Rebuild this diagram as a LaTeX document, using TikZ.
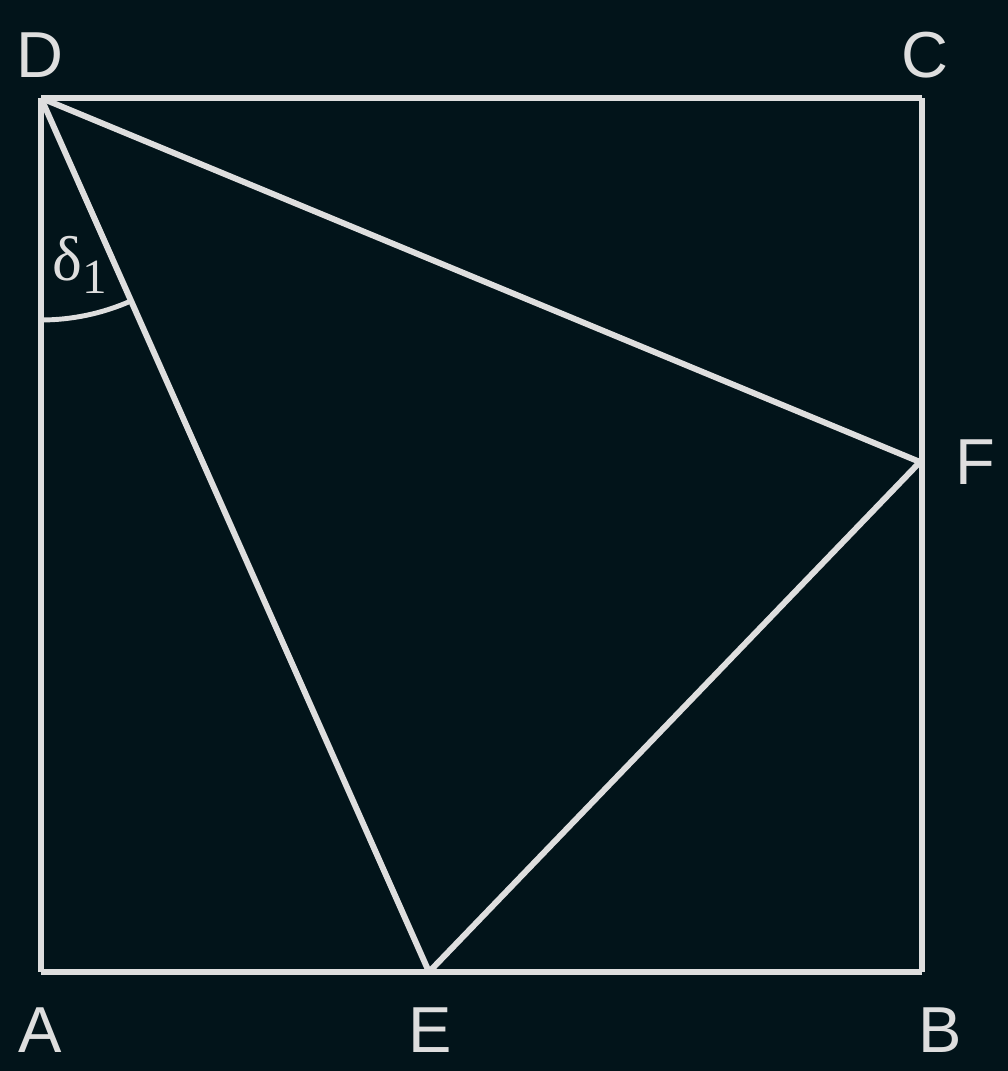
\documentclass[tikz,border=0pt]{standalone}
\usepackage{fontspec}
\setmainfont{Liberation Sans}
\newfontfamily\greekserif{Liberation Serif}
\definecolor{boardbg}{HTML}{02141A}
\definecolor{chalk}{HTML}{DEDEDE}
\begin{document}
\begin{tikzpicture}
    \fill[boardbg] (0,0) rectangle (10.08,10.71);
    \useasboundingbox (0,0) rectangle (10.08,10.71);

    \coordinate (A) at (0.41,0.99);
    \coordinate (B) at (9.22,0.99);
    \coordinate (C) at (9.22,9.73);
    \coordinate (D) at (0.41,9.73);
    \coordinate (E) at (4.29,0.99);
    \coordinate (F) at (9.20,6.09);

    \begin{scope}[every node/.style={text=chalk, inner sep=0pt, font=\fontsize{18.5}{20}\selectfont}]
        \node (lA) at (0.40,0.41) {A};
        \node (lB) at (9.40,0.41) {B};
        \node (lC) at (9.25,10.16) {C};
        \node (lD) at (0.40,10.16) {D};
        \node (lE) at (4.30,0.41) {E};
        \node (lF) at (9.75,6.09) {F};
    \end{scope}

    \begin{scope}[every edge/.style={draw=chalk, line width=1.7pt}]
        \path [-] (A) edge (B);
        \path [-] (B) edge (C);
        \path [-] (C) edge (D);
        \path [-] (D) edge (A);
        \path [-] (D) edge (E);
        \path [-] (D) edge (F);
        \path [-] (E) edge (F);
    \end{scope}

    \draw[chalk, line width=1.4pt] ([shift={(-90:2.22)}]D) arc (-90:-66.1:2.22);
    \node[text=chalk, inner sep=0pt, anchor=base west] (delta) at (0.52,7.9)
        {\greekserif\fontsize{18}{20}\selectfont δ\raisebox{-0.2em}{\fontsize{14}{16}\selectfont 1}};
\end{tikzpicture}
\end{document}
